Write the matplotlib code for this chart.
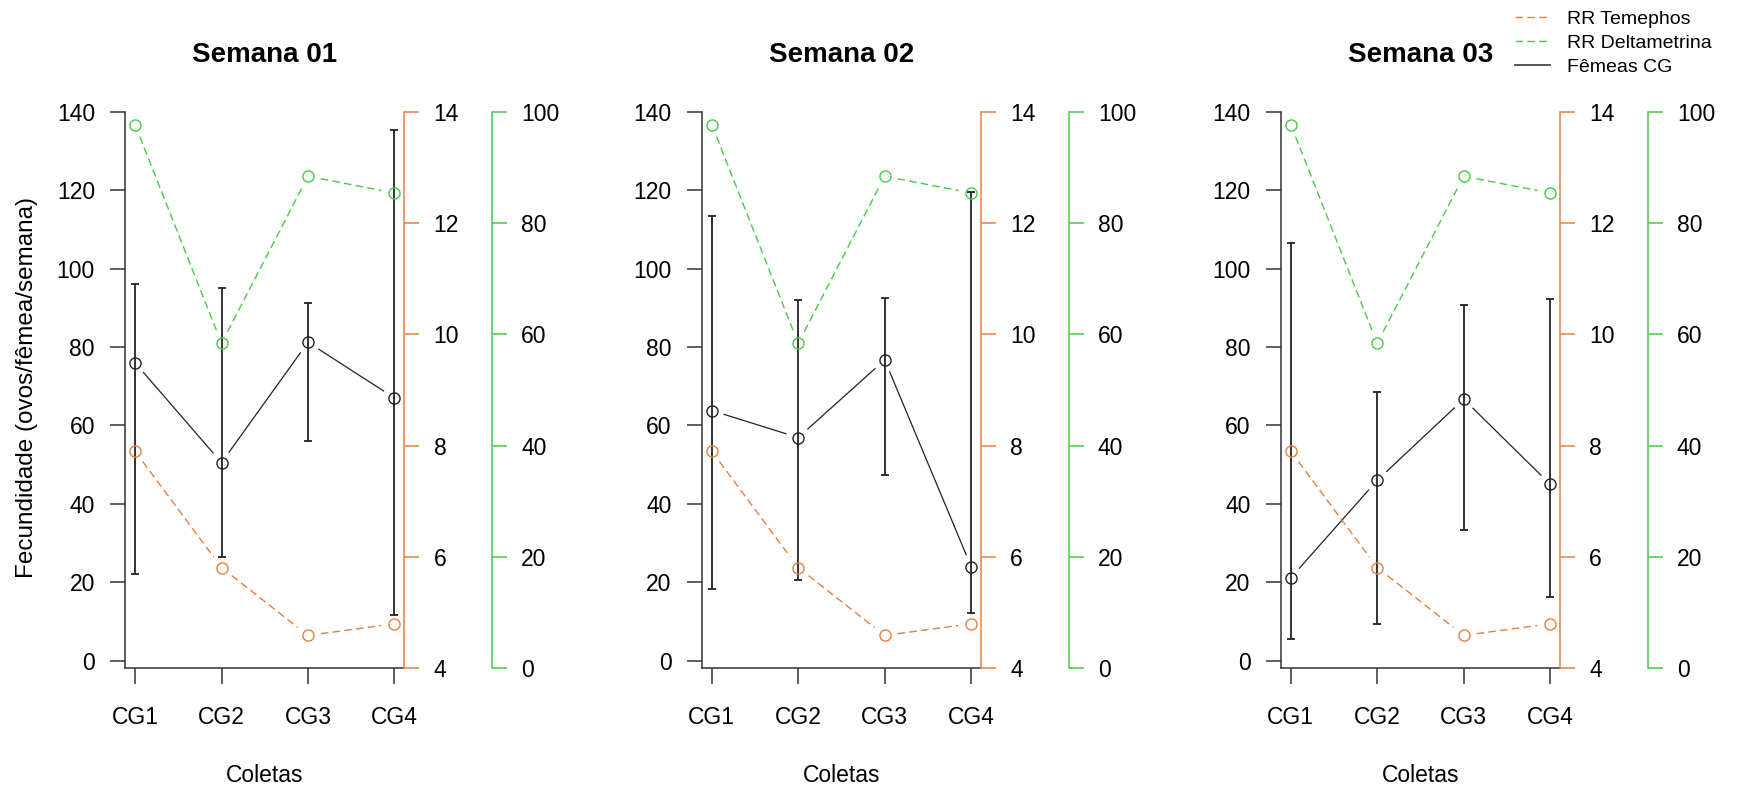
import numpy as np
import matplotlib
matplotlib.use("Agg")
import matplotlib.pyplot as plt
from matplotlib.lines import Line2D

plt.rcParams['font.family'] = ['Liberation Sans', 'DejaVu Sans']

# data
coletas = ['CG1', 'CG2', 'CG3', 'CG4']
semanas = ['Semana 01', 'Semana 02', 'Semana 03']

rr_temephos = [7.90, 5.81, 4.59, 4.80]
rr_deltametrina = [97.7, 58.4, 88.4, 85.4]

# fecundidade media e limites das barras, por semana
femeas_media = [[76.0, 50.5, 81.2, 67.0],
                [63.8, 56.9, 76.7, 24.0],
                [21.1, 46.0, 66.7, 45.0]]
femeas_sup = [[96.0, 95.1, 91.3, 135.3],
              [113.3, 91.9, 92.4, 119.6],
              [106.5, 68.6, 90.6, 92.2]]
femeas_inf = [[22.0, 26.5, 56.1, 11.7],
              [18.2, 20.5, 47.3, 12.1],
              [5.6, 9.3, 33.4, 16.3]]

W, H = 1737, 790
LARANJA = '#E6803F'
VERDE = '#45CC45'
PRETO = '#222222'
EIXO = '#333333'
DASH = (0, (5.5, 3))


def linha_b(ax, x, y, gap=13, **kw):
    '''linhas com espaco perto dos pontos, como type="b" do R'''
    pts = ax.transData.transform(np.column_stack([x, y]))
    inv = ax.transData.inverted()
    for p0, p1 in zip(pts[:-1], pts[1:]):
        d = p1 - p0
        L = np.hypot(*d)
        if L <= 2 * gap:
            continue
        a = inv.transform(p0 + d / L * gap)
        b = inv.transform(p1 - d / L * gap)
        ax.plot([a[0], b[0]], [a[1], b[1]], **kw)


fig = plt.figure(figsize=(W / 100, H / 100), dpi=100)

lefts = [125, 701.7, 1280.7]
largura = 279.5
topo, base = 111.7, 668.3
x = np.arange(1, 5)

for i, nome in enumerate(semanas):
    ax = fig.add_axes([lefts[i] / W, (H - base) / H, largura / W, (base - topo) / H])
    ax.set_xlim(0.884, 4.116)
    ax.set_ylim(-1.94, 140)

    ax2 = ax.twinx()
    ax2.set_ylim(4, 14)
    ax3 = ax.twinx()
    ax3.set_ylim(0, 100)
    ax3.spines['right'].set_position(('axes', 1 + 87.5 / largura))

    # femeas CG com barras
    med = np.array(femeas_media[i])
    yerr = [med - np.array(femeas_inf[i]), np.array(femeas_sup[i]) - med]
    ax.errorbar(x, med, yerr=yerr, fmt='none', ecolor=PRETO, elinewidth=1.3,
                capsize=3.2, capthick=1.3, zorder=3)
    ax.plot(x, med, 'o', ms=8, mfc='none', mec=PRETO, mew=1.0, zorder=4)
    linha_b(ax, x, med, color=PRETO, lw=0.9)

    # RR temephos
    ax2.plot(x, rr_temephos, 'o', ms=8, mfc='none', mec=LARANJA, mew=1.0)
    linha_b(ax2, x, rr_temephos, color=LARANJA, lw=1.0, ls=DASH)

    # RR deltametrina
    ax3.plot(x, rr_deltametrina, 'o', ms=8, mfc='none', mec=VERDE, mew=1.0)
    linha_b(ax3, x, rr_deltametrina, color=VERDE, lw=1.0, ls=DASH)

    # eixos
    ax.set_xticks(x)
    ax.set_xticklabels(coletas)
    ax.set_yticks(np.arange(0, 141, 20))
    ax.tick_params(axis='x', length=11.5, width=1.1, color=EIXO, pad=16, labelsize=16.5)
    ax.tick_params(axis='y', length=10.6, width=1.1, color=EIXO, pad=11, labelsize=16.5)
    for s in ['top', 'right']:
        ax.spines[s].set_visible(False)
    for s in ['left', 'bottom']:
        ax.spines[s].set_color(EIXO)
        ax.spines[s].set_linewidth(1.1)

    for a2, cor, ticks in [(ax2, LARANJA, np.arange(4, 15, 2)),
                           (ax3, VERDE, np.arange(0, 101, 20))]:
        for s in ['top', 'left', 'bottom']:
            a2.spines[s].set_visible(False)
        a2.spines['right'].set_color(cor)
        a2.spines['right'].set_linewidth(1.1)
        a2.set_yticks(ticks)
        a2.tick_params(axis='y', length=11, width=1.1, color=cor, pad=10,
                       labelsize=16.5, labelcolor='black')

    ax.set_title(nome, fontsize=20, fontweight='bold', pad=36)
    ax.set_xlabel('Coletas', fontsize=16.5, labelpad=25)

fig.text(27 / W, 1 - 388 / H, 'Fecundidade (ovos/fêmea/semana)', rotation=90,
         ha='center', va='center', fontsize=17.5)

handles = [Line2D([], [], color=LARANJA, lw=1.0, ls=DASH),
           Line2D([], [], color=VERDE, lw=1.0, ls=DASH),
           Line2D([], [], color='#444444', lw=1.3)]
fig.legend(handles, ['RR Temephos', 'RR Deltametrina', 'Fêmeas CG'],
           loc='upper left', bbox_to_anchor=(1515 / W, 1 - 10 / H),
           frameon=False, fontsize=14, borderpad=0, borderaxespad=0,
           labelspacing=0.33, handlelength=1.8, handletextpad=0.88)

fig.savefig('out.png', dpi=100)
